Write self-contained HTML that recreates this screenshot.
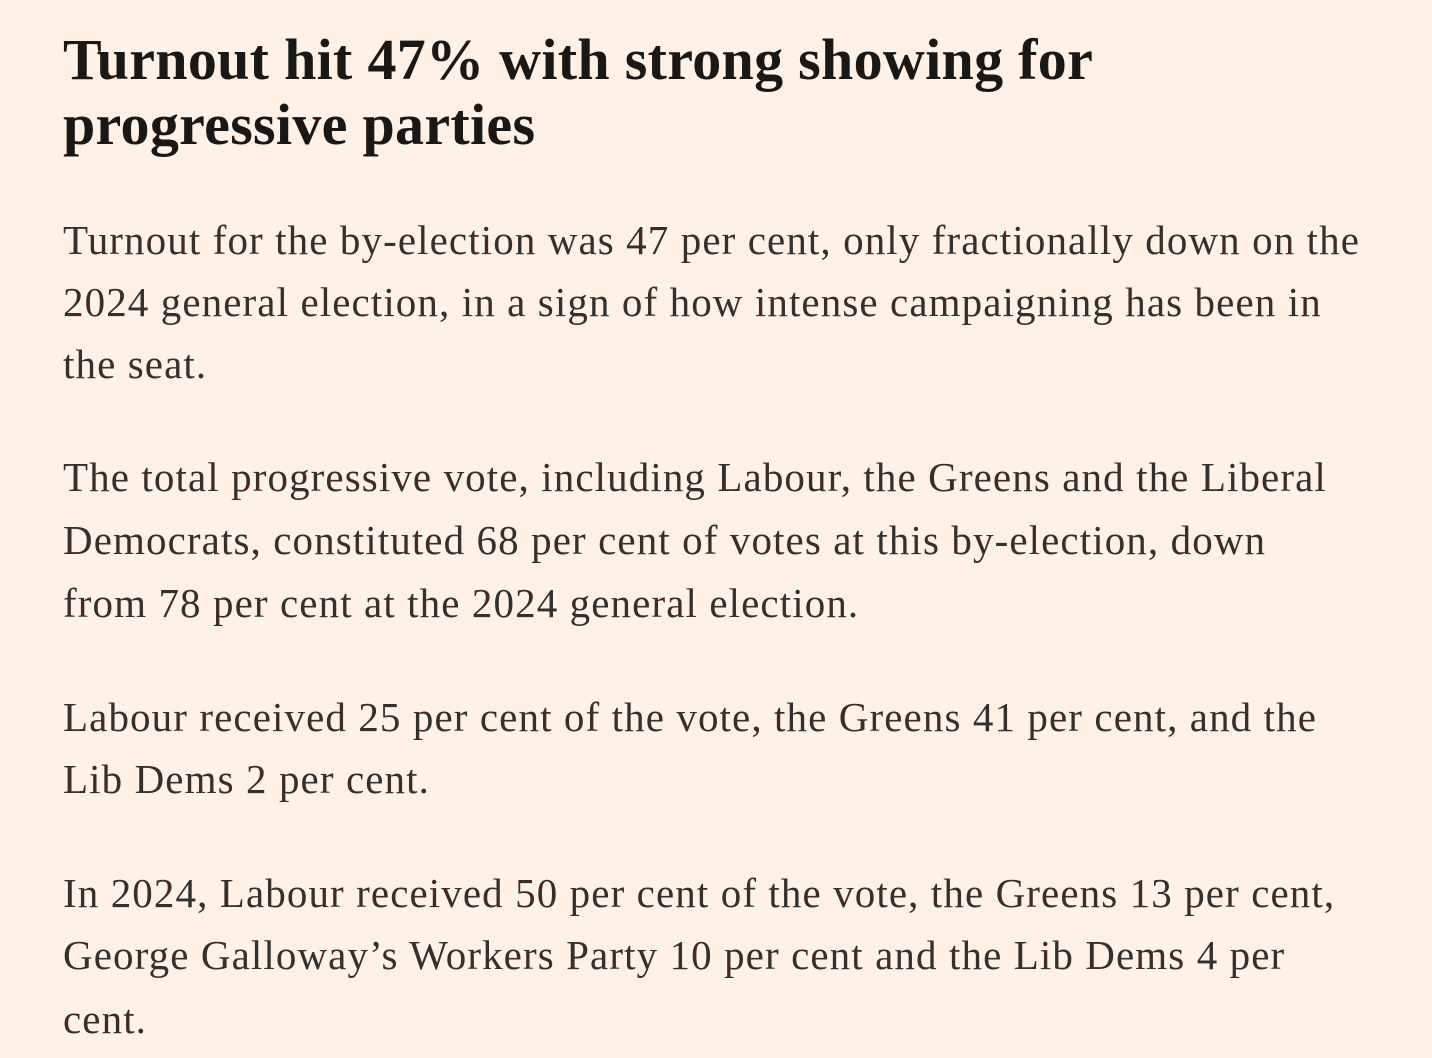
<!DOCTYPE html>
<html><head><meta charset="utf-8">
<style>
html,body{margin:0;padding:0;background:#FFF1E5;width:1432px;height:1058px;overflow:hidden;}
.t{position:absolute;left:63px;white-space:nowrap;font-family:"Liberation Serif",serif;font-weight:bold;font-size:58px;line-height:64px;color:#1a1817;letter-spacing:0.3px;}
.b{position:absolute;left:63px;white-space:nowrap;font-family:"Liberation Serif",serif;font-size:41px;line-height:62px;color:#33302e;letter-spacing:1.1px;}
</style></head><body>
<div class="t" style="top:28px">Turnout hit 47% with strong showing for</div>
<div class="t" style="top:93px">progressive parties</div>

<div class="b" style="top:209px">Turnout for the by-election was 47 per cent, only fractionally down on the</div>
<div class="b" style="top:271px">2024 general election, in a sign of how intense campaigning has been in</div>
<div class="b" style="top:333px">the seat.</div>

<div class="b" style="top:446px">The total progressive vote, including Labour, the Greens and the Liberal</div>
<div class="b" style="top:509px">Democrats, constituted 68 per cent of votes at this by-election, down</div>
<div class="b" style="top:572px">from 78 per cent at the 2024 general election.</div>

<div class="b" style="top:686px">Labour received 25 per cent of the vote, the Greens 41 per cent, and the</div>
<div class="b" style="top:748px">Lib Dems 2 per cent.</div>

<div class="b" style="top:862px">In 2024, Labour received 50 per cent of the vote, the Greens 13 per cent,</div>
<div class="b" style="top:924px">George Galloway’s Workers Party 10 per cent and the Lib Dems 4 per</div>
<div class="b" style="top:988px">cent.</div>
</body></html>
